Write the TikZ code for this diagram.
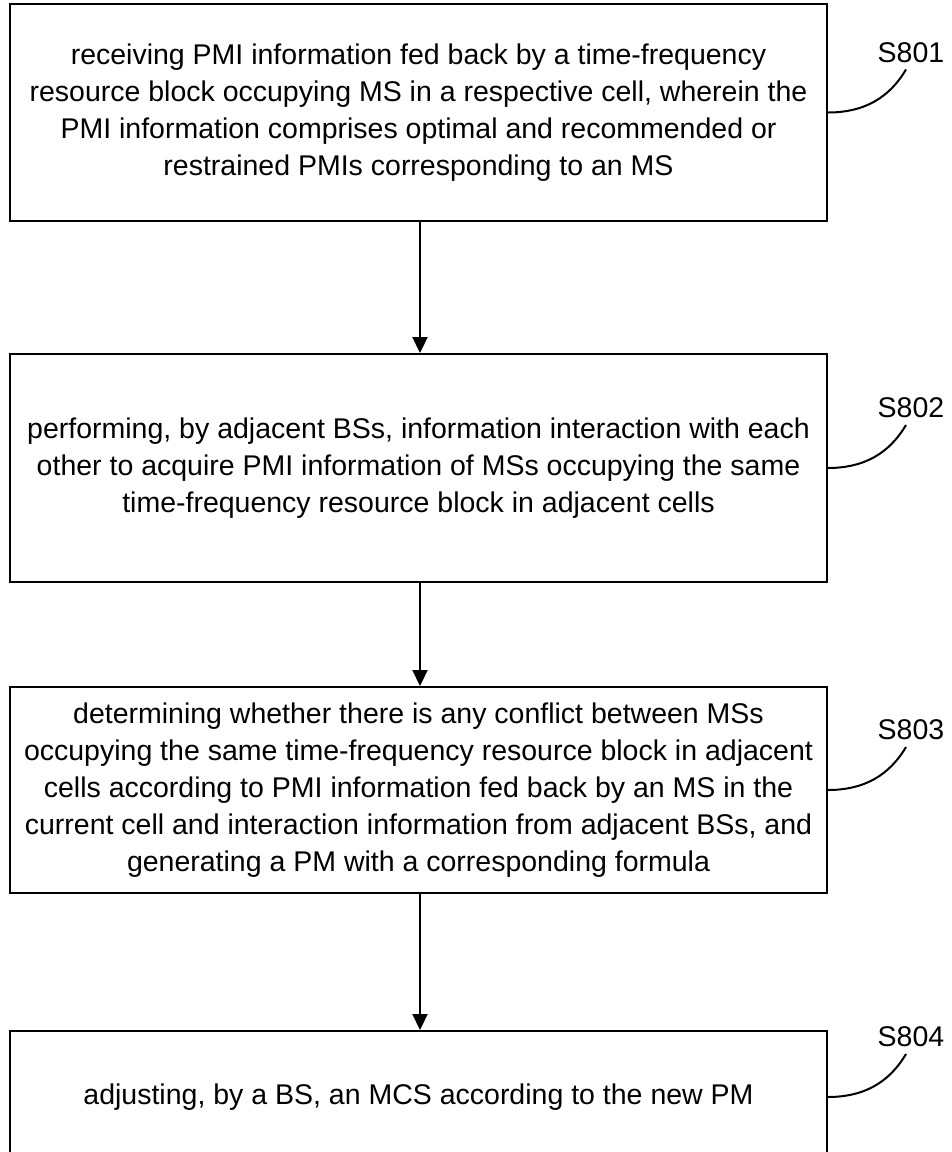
\documentclass[tikz,border=0pt]{standalone}
\usepackage{fontspec}
\setmainfont{Liberation Sans}
\usetikzlibrary{arrows.meta,calc}
\begin{document}
\begin{tikzpicture}[x=1pt,y=-1pt,
  stepbox/.style={draw, line width=2pt, inner sep=0pt, align=center,
    font=\fontsize{28.5}{37}\selectfont, minimum width=817pt},
  flow/.style={-{Triangle[length=16pt,width=15pt]}, line width=2.2pt},
  lead/.style={line width=2pt},
  tag/.style={font=\fontsize{28.5}{34}\selectfont, inner sep=0pt}]
\useasboundingbox (0,0) rectangle (952,1152);
\fill[white] (0,0) rectangle (952,1152);
\begin{scope}
\clip (0,0) rectangle (952,1152);
\node[stepbox, minimum height=217pt] (b1) at (418.5,112.5)
  {receiving PMI information fed back by a time-frequency\\
   resource block occupying MS in a respective cell, wherein the\\
   PMI information comprises optimal and recommended or\\
   restrained PMIs corresponding to an MS};
\node[stepbox, minimum height=228pt] (b2) at (418.5,468)
  {performing, by adjacent BSs, information interaction with each\\
   other to acquire PMI information of MSs occupying the same\\
   time-frequency resource block in adjacent cells};
\node[stepbox, minimum height=206pt] (b3) at (418.5,790)
  {determining whether there is any conflict between MSs\\
   occupying the same time-frequency resource block in adjacent\\
   cells according to PMI information fed back by an MS in the\\
   current cell and interaction information from adjacent BSs, and\\
   generating a PM with a corresponding formula};
\node[stepbox, minimum height=132pt] (b4) at (418.5,1097)
  {adjusting, by a BS, an MCS according to the new PM};
\end{scope}
\draw[flow] ($(b1.south)+(1.5,0)$) -- ($(b2.north)+(1.5,0)$);
\draw[flow] ($(b2.south)+(1.5,0)$) -- ($(b3.north)+(1.5,0)$);
\draw[flow] ($(b3.south)+(1.5,0)$) -- ($(b4.north)+(1.5,0)$);
\foreach \i in {1,2,3,4}{
  \coordinate (l\i) at ($(b\i.east)+(78,-43)$);
  \draw[lead] (b\i.east) .. controls +(45,0) and +(-12,20) .. (l\i);
  \node[tag] (t\i) at ($(l\i)+(5,-17)$) {S80\i};
}
\end{tikzpicture}
\end{document}
